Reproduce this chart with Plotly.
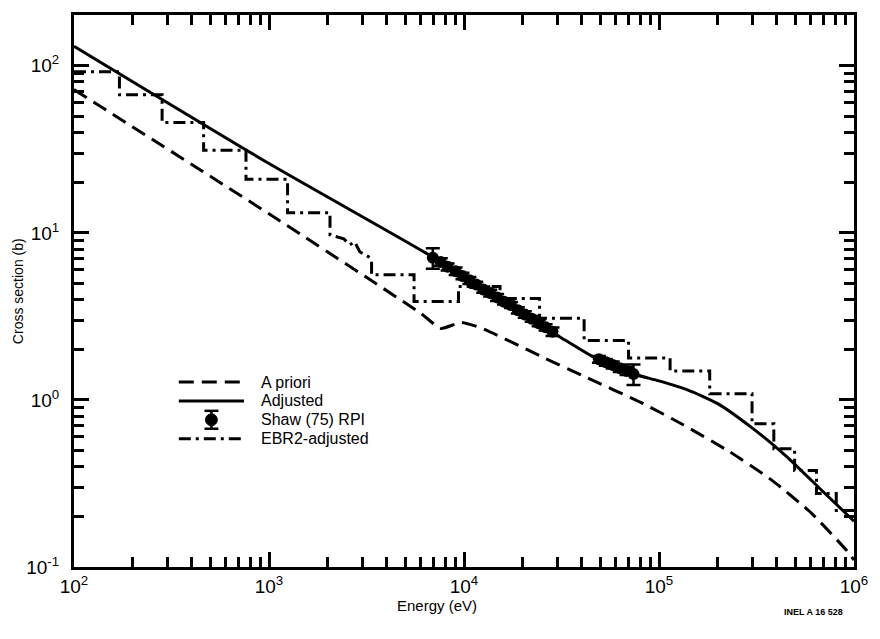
import plotly.graph_objects as go

# ---------------- data ----------------
# A priori (dashed)
apriori_E = [100, 1000, 6000, 7600, 9700, 12400, 25900, 41000, 83000, 133000,
             230000, 380000, 605000, 920000, 1000000]
apriori_s = [72, 13.0, 3.3, 2.68, 2.91, 2.68, 1.78, 1.39, 0.95, 0.71,
             0.49, 0.33, 0.21, 0.125, 0.11]

# Adjusted (solid)
adj_E = [100, 1000, 7000, 10000, 20000, 30000, 50000, 74000, 100000, 140000,
         200000, 300000, 450000, 680000, 1000000]
adj_s = [131, 26, 7.1, 5.4, 3.25, 2.44, 1.71, 1.43, 1.30, 1.15,
         0.95, 0.68, 0.46, 0.289, 0.188]

# Shaw (75) RPI measurements
shaw_E = [6920, 7600, 8240, 9060, 9820, 10660, 11560, 12550, 13620, 14780,
          16040, 17410, 18890, 20500, 22250, 24150, 26200, 28440,
          49200, 53400, 57900, 62900, 68200, 74000]
shaw_s = [7.10, 6.70, 6.26, 5.90, 5.52, 5.20, 4.90, 4.58, 4.36, 4.11,
          3.87, 3.70, 3.44, 3.25, 3.06, 2.88, 2.72, 2.56,
          1.75, 1.68, 1.62, 1.55, 1.49, 1.43]
shaw_err = [1.0, 0.35, 0.3, 0.3, 0.25, 0.25, 0.2, 0.2, 0.2, 0.2,
            0.15, 0.15, 0.15, 0.15, 0.12, 0.12, 0.12, 0.15,
            0.08, 0.08, 0.08, 0.08, 0.08, 0.2]

# EBR2-adjusted (group-wise steps)
ebr_edges = [100, 171, 283, 462, 762, 1245, 2055, 3357, 5544, 9370, 15300,
             24400, 41300, 69800, 114000, 182000, 300000, 388000, 496000,
             642000, 811000, 1000000]
ebr_levels = [92, 67, 45.8, 31.2, 20.9, 13.2, None, 5.62, 3.88, 4.77, 4.05,
              3.08, 2.27, 1.78, 1.49, 1.09, 0.72, 0.51, 0.378, 0.275, 0.218]
# structured group (2055-3357 eV)
ebr_wiggle_E = [2055, 2420, 2600, 2750, 2920, 3240, 3357]
ebr_wiggle_s = [9.72, 9.2, 8.48, 8.84, 7.71, 7.19, 6.9]

x_ticks = [1e2, 1e3, 1e4, 1e5, 1e6]
x_ticktext = ["10<sup>2</sup>", "10<sup>3</sup>", "10<sup>4</sup>", "10<sup>5</sup>", "10<sup>6</sup>"]
y_ticks = [0.1, 1, 10, 100]
y_ticktext = ["10<sup>-1</sup>", "10<sup>0</sup>", "10<sup>1</sup>", "10<sup>2</sup>"]

legend_labels = ["A priori", "Adjusted", "Shaw (75) RPI", "EBR2-adjusted"]

# ---------------- build step polyline ----------------
ebr_x, ebr_y = [], []
for i, lev in enumerate(ebr_levels):
    if lev is None:
        ebr_x += ebr_wiggle_E
        ebr_y += ebr_wiggle_s
    else:
        ebr_x += [ebr_edges[i], ebr_edges[i + 1]]
        ebr_y += [lev, lev]

FONT = "Liberation Sans, Arial, Helvetica, sans-serif"
fig = go.Figure()

fig.add_trace(go.Scatter(x=apriori_E, y=apriori_s, mode="lines",
                         line=dict(color="black", width=3, dash="15px,8px",
                                   shape="spline", smoothing=0.5),
                         name=legend_labels[0]))
fig.add_trace(go.Scatter(x=adj_E, y=adj_s, mode="lines",
                         line=dict(color="black", width=3, shape="spline", smoothing=0.6),
                         name=legend_labels[1]))
fig.add_trace(go.Scatter(x=ebr_x, y=ebr_y, mode="lines",
                         line=dict(color="black", width=3, dash="12px,5px,3px,5px"),
                         name=legend_labels[3]))
fig.add_trace(go.Scatter(x=shaw_E, y=shaw_s, mode="markers",
                         marker=dict(color="black", size=12),
                         error_y=dict(type="data", array=shaw_err, color="black",
                                      thickness=2.5, width=7),
                         name=legend_labels[2]))

# ---------------- layout ----------------
L, R, T, B = 74, 17, 12, 72
W, H = 880, 639
pw, ph = W - L - R, H - T - B


def px(xp):
    return (xp - L) / pw


def py(yp):
    return (H - B - yp) / ph


minor_x = [m * 10 ** d for d in range(2, 6) for m in range(2, 10)]
minor_y = [m * 10 ** d for d in range(-1, 3) for m in range(2, 10)]

axis_common = dict(showgrid=False, zeroline=False, showline=True, linecolor="black",
                   linewidth=3, mirror="ticks", ticks="inside", ticklen=15,
                   tickwidth=3, tickcolor="black",
                   tickfont=dict(family=FONT, size=19, color="black"))

fig.update_xaxes(type="log", range=[2, 6], tickvals=x_ticks, ticktext=x_ticktext,
                 minor=dict(tickvals=minor_x, ticks="inside", ticklen=10,
                            tickwidth=3, tickcolor="black"),
                 **axis_common)
fig.update_yaxes(type="log", range=[-1, 2.304], tickvals=y_ticks, ticktext=y_ticktext,
                 ticklabelstandoff=8,
                 minor=dict(tickvals=minor_y, ticks="inside", ticklen=10,
                            tickwidth=3, tickcolor="black"),
                 **axis_common)

fig.update_layout(width=W, height=H, margin=dict(l=L, r=R, t=T, b=B),
                  paper_bgcolor="white", plot_bgcolor="white", showlegend=False,
                  font=dict(family=FONT, color="black"))

# axis titles and tag
fig.add_annotation(text="Energy (eV)", xref="paper", yref="paper", x=px(441), y=py(606),
                   xanchor="center", yanchor="middle",
                   showarrow=False, font=dict(family=FONT, size=15, color="black"))
fig.add_annotation(text="Cross section (b)", xref="paper", yref="paper", x=px(18), y=py(290),
                   xanchor="center", yanchor="middle",
                   textangle=-90, showarrow=False,
                   font=dict(family=FONT, size=14, color="black"))
fig.add_annotation(text="<b>INEL A 16 528</b>", xref="paper", yref="paper", x=px(822), y=py(612),
                   xanchor="center", yanchor="middle",
                   showarrow=False, font=dict(family=FONT, size=9, color="black"))

# ---------------- manual legend ----------------
rows = [381, 400, 419, 438]
x0, x1, xt = 180, 246, 261
dashes = ["15px,8px", "solid", None, "12px,5px,3px,5px"]
for lab, yr, d in zip(legend_labels, rows, dashes):
    if d is not None:
        fig.add_shape(type="line", xref="paper", yref="paper",
                      x0=px(x0), x1=px(x1), y0=py(yr), y1=py(yr),
                      line=dict(color="black", width=3, dash=d))
    else:
        xc = (x0 + x1) / 2
        fig.add_shape(type="line", xref="paper", yref="paper",
                      x0=px(xc), x1=px(xc), y0=py(yr - 9), y1=py(yr + 9),
                      line=dict(color="black", width=2.5))
        for yy in (yr - 9, yr + 9):
            fig.add_shape(type="line", xref="paper", yref="paper",
                          x0=px(xc - 7), x1=px(xc + 7), y0=py(yy), y1=py(yy),
                          line=dict(color="black", width=2.5))
        fig.add_shape(type="circle", xref="paper", yref="paper",
                      x0=px(xc - 6), x1=px(xc + 6), y0=py(yr - 6), y1=py(yr + 6),
                      fillcolor="black", line=dict(color="black", width=1))
    fig.add_annotation(text=lab, xref="paper", yref="paper", x=px(xt), y=py(yr),
                       xanchor="left", yanchor="middle", showarrow=False,
                       font=dict(family=FONT, size=16, color="black"))

fig.write_html("out.html", config={"displayModeBar": False},
               post_script="document.body.style.margin='0';document.body.style.padding='0';")
